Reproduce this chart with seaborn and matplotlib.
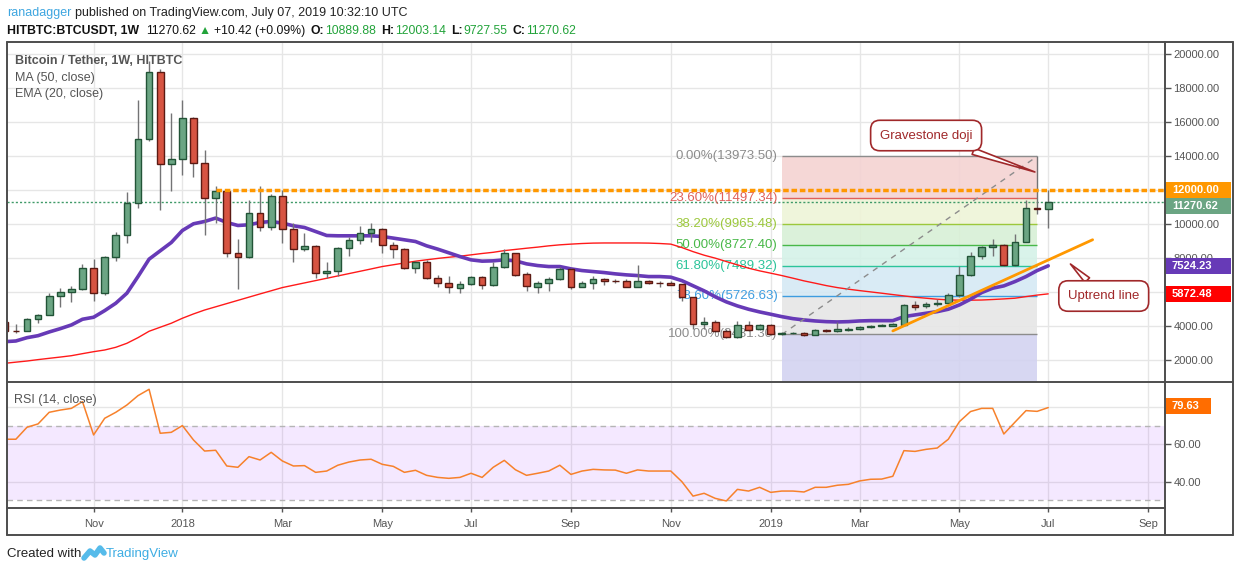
import numpy as np
import pandas as pd
import seaborn as sns
import matplotlib
matplotlib.use('Agg')
import matplotlib.pyplot as plt
import matplotlib.dates as mdates
from matplotlib.lines import Line2D
from matplotlib.patches import Rectangle
from matplotlib.ticker import FormatStrFormatter

# weekly BTC/USDT candles, first bar = week of 11 Sep 2017
first_week = '2017-09-11'
opens = [4200, 3695, 3690, 4413, 4614, 5734, 5970, 6147, 7386, 5911,
         8070, 9310, 11221, 14997, 18950, 13522, 13817, 16236, 13581, 11516,
         11930, 8272, 8071, 10631, 9806, 11652, 9687, 8543, 8684, 7091,
         7209, 8566, 9056, 9451, 9687, 8744, 8507, 7386, 7740, 6796,
         6501, 6242, 6442, 6855, 6383, 7445, 8272, 7032, 6301, 6501,
         6737, 7327, 6265, 6501, 6737, 6625, 6619, 6301, 6619, 6510,
         6501, 6442, 5675, 4083, 4218, 3687, 3315, 4023, 3787, 4023,
         3491, 3560, 3569, 3451, 3746, 3703, 3746, 3787, 3898, 3982,
         3982, 4059, 5221, 5134, 5280, 5320, 5793, 6991, 8130, 8661,
         8761, 7581, 8956, 10930, 10889.88]
highs = [4250, 4100, 4480, 4690, 5950, 6224, 6360, 7640, 7935, 8100,
         9487, 11870, 17316, 19600, 19127, 16531, 17316, 16300, 14366, 12242,
         12047, 9115, 11416, 12242, 11770, 12006, 10041, 9451, 8761, 7740,
         8625, 9215, 9882, 10041, 9750, 8938, 8560, 7800, 7876, 6973,
         6932, 6637, 6932, 6900, 7776, 8507, 8300, 7168, 6619, 6855,
         7445, 7400, 6619, 6932, 6800, 6737, 6737, 7581, 6680, 6619,
         6619, 6470, 5700, 4495, 4350, 3787, 4295, 4295, 4100, 4100,
         3650, 3620, 3600, 3800, 3810, 4236, 3900, 4000, 4050, 4100,
         4130, 5280, 5475, 5400, 5593, 5900, 7522, 8366, 8700, 9115,
         8800, 9410, 11416, 13973.5, 12003.14]
lows = [3600, 3550, 3660, 4180, 4600, 5120, 5415, 6100, 5475, 5830,
        7835, 8860, 10926, 14900, 10785, 11906, 12850, 12732, 9351, 10041,
        8071, 6147, 8000, 9546, 9605, 8897, 7776, 8425, 6832, 6832,
        6950, 8112, 8802, 8956, 8306, 8012, 7330, 7127, 6750, 6301,
        5947, 5947, 6400, 6183, 6350, 7400, 6932, 6065, 5947, 6065,
        6700, 6183, 6250, 6183, 6383, 6501, 6262, 6262, 6480, 6301,
        6400, 5475, 3787, 3787, 3644, 3250, 3250, 3700, 3750, 3450,
        3450, 3500, 3400, 3430, 3650, 3650, 3700, 3750, 3850, 3950,
        3950, 4000, 4926, 5050, 5150, 5300, 5700, 6950, 7900, 8100,
        7500, 7500, 8900, 10590, 9727.55]
closes = [3690, 3690, 4380, 4614, 5734, 5970, 6165, 7386, 5911, 8070,
          9333, 11239, 14997, 18950, 13522, 13817, 16236, 13581, 11516, 11906,
          8272, 8071, 10631, 9806, 11652, 9687, 8543, 8684, 7091, 7209,
          8566, 9056, 9451, 9687, 8744, 8507, 7386, 7740, 6796, 6501,
          6265, 6442, 6855, 6383, 7445, 8272, 6991, 6342, 6501, 6737,
          7327, 6265, 6501, 6737, 6619, 6615, 6301, 6619, 6501, 6500,
          6419, 5675, 4083, 4218, 3703, 3315, 4023, 3746, 4023, 3510,
          3569, 3569, 3432, 3746, 3703, 3787, 3823, 3923, 3982, 4041,
          4083, 5221, 5120, 5280, 5357, 5793, 6991, 8130, 8661, 8761,
          7581, 8956, 10926, 10890, 11270.62]
ma50 = [1781, 1850, 1917, 2000, 2076, 2150, 2230, 2350, 2466, 2566,
        2725, 2961, 3292, 3670, 3906, 4142, 4436, 4690, 4920, 5110,
        5300, 5490, 5680, 5870, 6055, 6242, 6380, 6517, 6654, 6791,
        6928, 7065, 7202, 7340, 7481, 7586, 7691, 7796, 7880, 7960,
        8030, 8090, 8170, 8250, 8320, 8420, 8490, 8560, 8625, 8700,
        8760, 8802, 8838, 8862, 8870, 8870, 8870, 8870, 8862, 8838,
        8802, 8600, 8360, 8150, 7976, 7776, 7581, 7386, 7227, 7091,
        6950, 6796, 6637, 6501, 6360, 6242, 6147, 6065, 5988, 5911,
        5830, 5752, 5675, 5616, 5557, 5516, 5500, 5500, 5510, 5540,
        5575, 5616, 5711, 5800, 5872.48]
ema20 = [3056, 3097, 3292, 3410, 3628, 3823, 4041, 4377, 4495, 4885,
         5321, 5911, 6891, 7917, 8407, 8897, 9605, 10000, 10136, 10336,
         10077, 9900, 9941, 10077, 10136, 10041, 9882, 9782, 9546, 9310,
         9292, 9292, 9292, 9292, 9251, 9156, 9056, 8956, 8702, 8507,
         8290, 8071, 7876, 7799, 7817, 7876, 7817, 7640, 7540, 7481,
         7481, 7345, 7245, 7186, 7127, 7050, 6991, 6950, 6891, 6891,
         6855, 6650, 6350, 6050, 5700, 5400, 5162, 4967, 4808, 4672,
         4531, 4413, 4336, 4277, 4236, 4218, 4236, 4277, 4295, 4295,
         4295, 4531, 4631, 4731, 4826, 4967, 5221, 5557, 5947, 6207,
         6342, 6596, 6891, 7245, 7524.23]
rsi14 = [62.7, 62.7, 69.1, 70.9, 77.1, 78.3, 79.2, 82.8, 65.0, 73.9,
         77.1, 81.0, 86.0, 89.4, 65.9, 66.4, 70.0, 62.3, 56.4, 56.8,
         48.4, 47.7, 53.4, 51.6, 55.7, 51.1, 48.4, 48.6, 45.0, 45.7,
         48.8, 50.5, 51.6, 52.0, 49.3, 48.2, 45.0, 46.1, 43.4, 42.3,
         41.8, 42.3, 44.5, 42.3, 47.7, 51.4, 46.4, 43.4, 44.5, 45.7,
         48.8, 43.9, 45.7, 46.6, 46.3, 46.2, 44.5, 46.3, 45.7, 45.7,
         45.7, 40.0, 32.3, 33.8, 31.1, 29.7, 35.9, 35.0, 37.0, 34.3,
         35.0, 35.0, 34.5, 37.0, 37.0, 38.1, 38.6, 40.4, 41.3, 41.4,
         42.9, 56.6, 56.2, 57.3, 58.0, 62.7, 72.1, 77.5, 79.2, 79.2,
         65.5, 71.8, 78.0, 77.6, 79.63]

# Fibonacci retracement (drawn from week 70 to week 93)
fib_pcts = ['0.00%', '23.60%', '38.20%', '50.00%', '61.80%', '78.60%', '100.00%']
fib_prices = [13973.50, 11497.34, 9965.48, 8727.40, 7489.32, 5726.63, 3481.30]
fib_colors = ['#8c8c8c', '#e0605a', '#9cc83c', '#48b848', '#2cc49a', '#3d9de0', '#8c8c8c']
fib_fills = ['#f4d3d2', '#eef4d7', '#d8f0d6', '#d5f2e8', '#d5e9f4', '#e6e6e6']

tick_dates = ['2017-11-06', '2018-01-01', '2018-03-05', '2018-05-07', '2018-07-02', '2018-09-03',
              '2018-11-05', '2019-01-07', '2019-03-04', '2019-05-06', '2019-07-01', '2019-09-02']
tick_labels = ['Nov', '2018', 'Mar', 'May', 'Jul', 'Sep', 'Nov', '2019', 'Mar', 'May', 'Jul', 'Sep']
price_ticks = list(range(2000, 20001, 2000))

sns.set_theme(style='white')
plt.rcParams['font.family'] = ['Liberation Sans', 'DejaVu Sans']

W, H = 1234, 572
fig = plt.figure(figsize=(W / 100, H / 100), dpi=100)


def fx(px):
    return px / W


def fy(py):
    return 1 - py / H


ax = fig.add_axes([fx(7), fy(382), (1165 - 7) / W, (382 - 42) / H])
ax_rsi = fig.add_axes([fx(7), fy(507.7), (1165 - 7) / W, (507.7 - 382) / H], sharex=ax)

dates = pd.date_range(first_week, periods=len(closes), freq='7D')
df = pd.DataFrame({'x': mdates.date2num(dates), 'open': opens, 'high': highs,
                   'low': lows, 'close': closes, 'ma50': ma50, 'ema20': ema20, 'rsi': rsi14})
x0 = df['x'].iloc[0]


def wk(i):
    return x0 + 7 * i


xmin, xmax = wk(0.2), wk(104.52)
ymin, ymax = 681, 20707
rmin, rmax = 26.1, 93.3

# ---- fibonacci box
for k in range(len(fib_fills)):
    ax.fill_between([wk(70), wk(93)], fib_prices[k + 1], fib_prices[k],
                    color=fib_fills[k], lw=0, alpha=0.9, zorder=1)
ax.fill_between([wk(70), wk(93)], ymin, fib_prices[-1], color='#d3d3f1', lw=0, alpha=0.9, zorder=1)
for pct, price, col in zip(fib_pcts, fib_prices, fib_colors):
    ax.hlines(price, wk(70), wk(93), color=col, lw=1, zorder=2)
    ax.annotate(f'{pct}({price:.2f})', xy=(wk(70), price), xytext=(-3, 0),
                textcoords='offset points', ha='right', va='center',
                color=col, fontsize=9.5, zorder=2.6)
ax.plot([wk(70), wk(93)], [fib_prices[-1], fib_prices[0]], color='#8c8c8c',
        lw=1, ls=(0, (4, 4)), zorder=3.5)

# ---- moving averages
sns.lineplot(data=df, x='x', y='ma50', ax=ax, color='#ff1a1a', lw=1, zorder=3)
sns.lineplot(data=df, x='x', y='ema20', ax=ax, color='#673ab7', lw=2.6, zorder=3)

# ---- candles
up = df['close'] >= df['open']
ax.vlines(df['x'], df['low'], df['high'], color='#737375', lw=1, zorder=4)
ax.bar(df['x'], (df['close'] - df['open']).abs(), bottom=df[['open', 'close']].min(axis=1),
       width=4.2, color=np.where(up, '#6ba583', '#d75442'),
       edgecolor=np.where(up, '#225437', '#5b1a13'), linewidth=1, zorder=5)

# ---- horizontal levels and uptrend line
ax.hlines(12000, wk(19), xmax, color='#ff9800', lw=2.5, linestyles=(0, (1.6, 0.8)), zorder=7)
ax.axhline(11270.62, color='#3f9a68', lw=1, ls=(0, (1.5, 1.5)), zorder=2)
ax.plot([wk(80), wk(98)], [3690, 9060], color='#ff9800', lw=2, zorder=6)

# ---- callouts
callout = dict(ha='center', va='center', fontsize=9.5, color='#a0282a', zorder=12,
               annotation_clip=False,
               bbox=dict(boxstyle='round,pad=0.7,rounding_size=0.7', fc='white', ec='#a0282a', lw=1.2),
               arrowprops=dict(arrowstyle='wedge,tail_width=0.5,shrink_factor=0.5',
                               fc='white', ec='#a0282a', lw=1.2, shrinkA=0, shrinkB=0))
ax.annotate('Gravestone doji', xy=(wk(92.8), 13050), xytext=(wk(83.0), 15199), **callout)
ax.annotate('Uptrend line', xy=(wk(96.0), 7631), xytext=(wk(99.0), 5746), **callout)

# ---- RSI panel
ax_rsi.axhspan(30, 70, color='#9c27ff', alpha=0.1, lw=0, zorder=1)
for lvl in (30, 70):
    ax_rsi.axhline(lvl, color='#b5b5b5', lw=1, ls=(0, (4, 3)), zorder=2)
sns.lineplot(data=df, x='x', y='rsi', ax=ax_rsi, color='#f7812b', lw=1.1, zorder=3)

# ---- axes styling
tick_x = mdates.date2num(pd.to_datetime(tick_dates))
for a in (ax, ax_rsi):
    a.set_xlim(xmin, xmax)
    a.set_xlabel('')
    a.set_ylabel('')
    a.set_facecolor('white')
    for s in a.spines.values():
        s.set_visible(False)
    a.set_axisbelow(True)
    a.grid(True, color='#e6e6e6', lw=1)
    a.yaxis.tick_right()
    a.tick_params(axis='y', right=True, length=4, width=1, color='#555555',
                  labelsize=8, labelcolor='#555555', pad=2)
    a.yaxis.set_major_formatter(FormatStrFormatter('%.2f'))

ax.set_ylim(ymin, ymax)
ax.set_yticks(price_ticks)
ax_rsi.set_ylim(rmin, rmax)
ax_rsi.set_yticks([40, 60, 80])
ax_rsi.set_xticks(tick_x)
ax_rsi.set_xticklabels(tick_labels)
ax.tick_params(axis='x', length=0, labelbottom=False)
ax_rsi.tick_params(axis='x', bottom=True, length=3, width=1, color='#555555',
                   labelsize=8, labelcolor='#555555', pad=5)


def badge(a, y, txt, color, per_px, width_px=66, shift_px=0):
    yc = y - shift_px * per_px
    h = 16 * per_px
    a.add_patch(Rectangle((1.0, yc - h / 2), width_px / 1158, h, transform=a.get_yaxis_transform(),
                          facecolor=color, edgecolor='none', clip_on=False, zorder=10))
    a.text(1.0 + 7 / 1158, yc, txt, transform=a.get_yaxis_transform(), ha='left', va='center',
           fontsize=8, fontweight='bold', color='white', clip_on=False, zorder=11)


per_main = (ymax - ymin) / 340
badge(ax, 12000, '12000.00', '#ff9800', per_main)
badge(ax, closes[-1], f'{closes[-1]:.2f}', '#6ba583', per_main, shift_px=4)
badge(ax, ema20[-1], f'{ema20[-1]:.2f}', '#673ab7', per_main)
badge(ax, ma50[-1], f'{ma50[-1]:.2f}', '#ff0000', per_main)
badge(ax_rsi, rsi14[-1], f'{rsi14[-1]:.2f}', '#ff6d00', (rmax - rmin) / 125.7, width_px=46, shift_px=-1.5)

# ---- frame
frame_c = '#4d4d4d'


def fline(xa, xb, ya, yb):
    fig.add_artist(Line2D([fx(xa), fx(xb)], [fy(ya), fy(yb)], color=frame_c, lw=1.4))


fline(7, 1233, 42, 42)
fline(7, 1233, 382, 382)
fline(7, 1165, 507.7, 507.7)
fline(7, 1233, 535, 535)
fline(7, 7, 42, 535)
fline(1165, 1165, 42, 535)
fline(1233, 1233, 42, 535)

# ---- texts
txt_c = '#555555'
fig.text(fx(15), fy(60.5), 'Bitcoin / Tether, 1W, HITBTC', fontsize=9, fontweight='bold',
         color=txt_c, va='center')
fig.text(fx(15), fy(77.5), 'MA (50, close)', fontsize=9, color=txt_c, va='center')
fig.text(fx(15), fy(94.5), 'EMA (20, close)', fontsize=9, color=txt_c, va='center')
fig.text(fx(14), fy(399.5), 'RSI (14, close)', fontsize=9, color=txt_c, va='center')

renderer = fig.canvas.get_renderer()


def text_row(parts, x_px, y_px, size):
    # place coloured pieces one after another, gap given in pixels
    x = x_px
    for s, wgt, col, gap in parts:
        x += gap
        t = fig.text(fx(x), fy(y_px), s, fontsize=size, fontweight=wgt, color=col, va='center')
        x = t.get_window_extent(renderer).x1


green = '#22a33a'
dark = '#111111'
text_row([('ranadagger', 'normal', '#3ea6e0', 0),
          ('published on TradingView.com, July 07, 2019 10:32:10 UTC', 'normal', '#222222', 4)],
         7, 13, 9)
text_row([('HITBTC:BTCUSDT, 1W', 'bold', dark, 0), ('11270.62', 'normal', dark, 7),
          ('▲', 'normal', green, 3), ('+10.42 (+0.09%)', 'normal', dark, 3),
          ('O:', 'bold', dark, 5), ('10889.88', 'normal', green, 1),
          ('H:', 'bold', dark, 5), ('12003.14', 'normal', green, 1),
          ('L:', 'bold', dark, 5), ('9727.55', 'normal', green, 1),
          ('C:', 'bold', dark, 5), ('11270.62', 'normal', green, 1)],
         7, 31, 8.8)

text_row([('Created with', 'normal', '#222222', 0)], 7, 554, 9.5)
fig.add_artist(Line2D([fx(84), fx(90), fx(95), fx(100), fx(104)],
                      [fy(558), fy(551), fy(555), fy(548), fy(553)],
                      color='#56bbea', lw=4, solid_capstyle='round', solid_joinstyle='round'))
fig.text(fx(106), fy(554), 'TradingView', fontsize=9.5, color='#3eade3', va='center')

fig.savefig('out.png', dpi=100, facecolor='white')
